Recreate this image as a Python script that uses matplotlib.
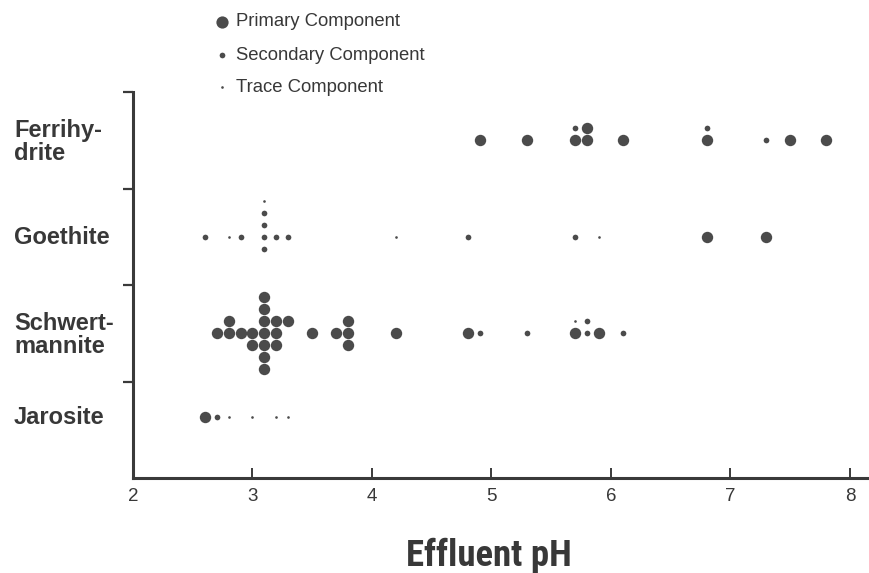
import matplotlib
matplotlib.use("Agg")
import matplotlib.pyplot as plt
from matplotlib.lines import Line2D
from matplotlib import font_manager
from matplotlib.font_manager import FontProperties

# ---------------- data ----------------
minerals = ["Ferrihy-\ndrite", "Goethite", "Schwert-\nmannite", "Jarosite"]
x_ticks = [2, 3, 4, 5, 6, 7, 8]
x_label = "Effluent pH"
legend_labels = ["Primary Component", "Secondary Component", "Trace Component"]

# Ferrihydrite
ferri_primary_ph = [4.9, 5.3, 5.7, 5.8, 5.8, 6.1, 6.8, 7.5, 7.8]
ferri_primary_lvl = [0, 0, 0, 0, 1, 0, 0, 0, 0]
ferri_secondary_ph = [5.7, 6.8, 7.3]
ferri_secondary_lvl = [1, 1, 0]
ferri_trace_ph = []
ferri_trace_lvl = []

# Goethite
goe_primary_ph = [6.8, 7.3]
goe_primary_lvl = [0, 0]
goe_secondary_ph = [2.6, 2.9, 3.1, 3.1, 3.1, 3.1, 3.2, 3.3, 4.8, 5.7]
goe_secondary_lvl = [0, 0, -1, 0, 1, 2, 0, 0, 0, 0]
goe_trace_ph = [2.8, 3.1, 4.2, 5.9]
goe_trace_lvl = [0, 3, 0, 0]

# Schwertmannite
schw_primary_ph = [2.7, 2.8, 2.8, 2.9, 3.0, 3.0,
                   3.1, 3.1, 3.1, 3.1, 3.1, 3.1, 3.1,
                   3.2, 3.2, 3.2, 3.3, 3.5, 3.7, 3.8, 3.8, 3.8,
                   4.2, 4.8, 5.7, 5.9]
schw_primary_lvl = [0, 0, 1, 0, 0, -1,
                    -3, -2, -1, 0, 1, 2, 3,
                    -1, 0, 1, 1, 0, 0, -1, 0, 1,
                    0, 0, 0, 0]
schw_secondary_ph = [4.9, 5.3, 5.8, 5.8, 6.1]
schw_secondary_lvl = [0, 0, 0, 1, 0]
schw_trace_ph = [5.7]
schw_trace_lvl = [1]

# Jarosite
jar_primary_ph = [2.6]
jar_primary_lvl = [0]
jar_secondary_ph = [2.7]
jar_secondary_lvl = [0]
jar_trace_ph = [2.8, 3.0, 3.2, 3.3]
jar_trace_lvl = [0, 0, 0, 0]

# ---------------- style ----------------
W, H, DPI = 869, 573, 100
dot_color = "#4b4b4b"
text_color = "#383838"
axis_color = "#3a3a3a"
sizes = {"primary": 8.2, "secondary": 4.1, "trace": 1.9}
row_y = [3.5, 2.5, 1.5, 0.63]
lvl_step = 0.124
base = "Liberation Sans"


def find_condensed_bold():
    prefs = ["liberation sans narrow", "roboto condensed", "open sans condensed",
             "noto sans condensed", "dejavu sans condensed", "dejavu sans"]
    best = None
    for f in font_manager.fontManager.ttflist:
        nm = f.name.lower()
        fn = f.fname.lower()
        if "mono" in nm or "mono" in fn or "italic" in fn or "oblique" in fn:
            continue
        if f.weight not in (700, "bold"):
            continue
        cond = ("narrow" in nm or "condensed" in nm or "narrow" in fn or "condensed" in fn
                or f.stretch in ("condensed", "semi-condensed", 75, 87.5))
        if not cond:
            continue
        key = nm + " " + ("condensed" if "condensed" in fn else "")
        rank = len(prefs)
        for i, p in enumerate(prefs):
            if all(w in key for w in p.split()):
                rank = i
                break
        if best is None or rank < best[0]:
            best = (rank, f.fname)
    return best[1] if best else None


cfile = find_condensed_bold()
if cfile:
    xlab_fp = FontProperties(fname=cfile, size=26.5)
else:
    xlab_fp = FontProperties(family=base, weight="bold", size=23)

fig = plt.figure(figsize=(W / DPI, H / DPI), dpi=DPI)
fig.patch.set_facecolor("white")
ax = fig.add_axes([133 / W, (H - 478) / H, (W - 133) / W, (478 - 92) / H])
ax.set_xlim(2, 2 + (W - 133) / 119.5)
ax.set_ylim(0, 4)

groups = [
    (ferri_primary_ph, ferri_primary_lvl, ferri_secondary_ph, ferri_secondary_lvl, ferri_trace_ph, ferri_trace_lvl),
    (goe_primary_ph, goe_primary_lvl, goe_secondary_ph, goe_secondary_lvl, goe_trace_ph, goe_trace_lvl),
    (schw_primary_ph, schw_primary_lvl, schw_secondary_ph, schw_secondary_lvl, schw_trace_ph, schw_trace_lvl),
    (jar_primary_ph, jar_primary_lvl, jar_secondary_ph, jar_secondary_lvl, jar_trace_ph, jar_trace_lvl),
]
for yb, (pp, pl, sp, sl, tp, tl) in zip(row_y, groups):
    for phs, lvls, kind in ((pp, pl, "primary"), (sp, sl, "secondary"), (tp, tl, "trace")):
        if phs:
            ys = [yb + l * lvl_step for l in lvls]
            ax.plot(phs, ys, "o", ls="none", ms=sizes[kind], color=dot_color,
                    mec=dot_color, mew=0, clip_on=False)

# axes styling
for s in ["top", "right"]:
    ax.spines[s].set_visible(False)
for s in ["left", "bottom"]:
    ax.spines[s].set_color(axis_color)
    ax.spines[s].set_linewidth(2.2)
ax.set_xticks(x_ticks)
ax.set_xticklabels([str(t) for t in x_ticks], fontsize=13.5, family=base, color=text_color)
ax.tick_params(axis="x", direction="in", length=7, width=1.4, color=axis_color, pad=7)
ax.set_yticks([1, 2, 3, 4])
ax.set_yticklabels([])
ax.tick_params(axis="y", direction="out", length=7, width=1.6, color=axis_color)

# category labels
label_y_px = [142, 237, 335, 418]
for lab, ypx in zip(minerals, label_y_px):
    fig.text(14 / W, 1 - ypx / H, lab, ha="left", va="center", fontsize=17,
             fontweight="bold", family=base, color=text_color, linespacing=1.05)

# x axis label
fig.text(489 / W, 1 - 556 / H, x_label, ha="center", va="center",
         fontproperties=xlab_fp, color=text_color)

# legend
leg_y = [22, 55, 87]
for lab, ypx, kind in zip(legend_labels, leg_y, ["primary", "secondary", "trace"]):
    fig.add_artist(Line2D([222 / W], [1 - ypx / H], marker="o", ls="none",
                          ms=sizes[kind] if kind != "primary" else 8.8,
                          color=dot_color, mew=0, transform=fig.transFigure))
    fig.text(236 / W, 1 - ypx / H, lab, ha="left", va="center", fontsize=13.3,
             family=base, color=text_color)

fig.savefig("out.png", dpi=DPI, facecolor="white")
